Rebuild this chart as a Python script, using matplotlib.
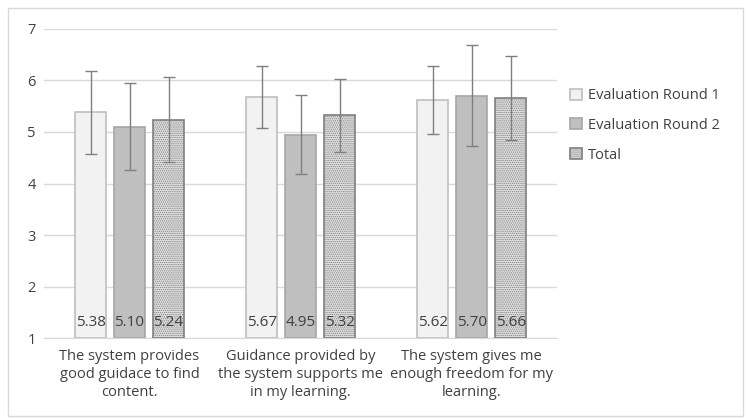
import numpy as np
import matplotlib.pyplot as plt

plt.rcParams['font.family'] = ['Open Sans', 'DejaVu Sans']
plt.rcParams['hatch.linewidth'] = 0.6

categories = ['The system provides\ngood guidace to find\ncontent.',
              'Guidance provided by\nthe system supports me\nin my learning.',
              'The system gives me\nenough freedom for my\nlearning.']
series = ['Evaluation Round 1', 'Evaluation Round 2', 'Total']
round1 = [5.38, 5.67, 5.62]
round2 = [5.10, 4.95, 5.70]
total = [5.24, 5.32, 5.66]
# error bar half-widths
err1 = [0.81, 0.60, 0.66]
err2 = [0.84, 0.76, 0.98]
err3 = [0.82, 0.70, 0.81]

fig = plt.figure(figsize=(7.46, 4.18), dpi=100)
ax = fig.add_axes([0.059, 0.191, 0.688, 0.740])

x = np.arange(len(categories))
w = 0.18
off = 0.228
styles = [dict(color='#f2f2f2', edgecolor='#bfbfbf'),
          dict(color='#bfbfbf', edgecolor='#a6a6a6'),
          dict(color='#e0e0e0', edgecolor='#7f7f7f', hatch='........')]
vals = [round1, round2, total]
errs = [err1, err2, err3]

for i in range(3):
    xs = x + (i - 1) * off
    ax.bar(xs, np.array(vals[i]) - 1, w, bottom=1, label=series[i],
           linewidth=1.2, zorder=2, **styles[i])
    ax.errorbar(xs, vals[i], yerr=errs[i], fmt='none', ecolor='#7f7f7f',
                elinewidth=1.0, capsize=4, capthick=1.0, zorder=3)
    for xx, v in zip(xs, vals[i]):
        ax.text(xx, 1.3, '%.2f' % v, ha='center', va='center',
                fontsize=11, color='#404040', zorder=4)

ax.set_ylim(1, 7)
ax.set_xlim(-0.5, 2.5)
ax.set_yticks(range(1, 8))
ax.set_xticks(x)
ax.set_xticklabels(categories, fontsize=10.5, color='#404040', linespacing=1.25)
ax.tick_params(axis='both', length=0, labelsize=10.5, colors='#404040')
ax.tick_params(axis='y', pad=6)
ax.tick_params(axis='x', pad=8)
ax.grid(axis='y', color='#d9d9d9', linewidth=1.0, zorder=0)
for s in ['top', 'right', 'left']:
    ax.spines[s].set_visible(False)
ax.spines['bottom'].set_color('#d9d9d9')

ax.legend(loc='upper left', bbox_to_anchor=(1.0, 0.85), frameon=False,
          fontsize=10.5, handlelength=0.8, handleheight=0.8,
          handletextpad=0.4, labelspacing=1.0, labelcolor='#404040')

fig.patches.append(plt.Rectangle((0.011, 0.005), 0.985, 0.975, transform=fig.transFigure,
                                 fill=False, edgecolor='#d9d9d9', linewidth=1.0))

plt.savefig('out.png', dpi=100)
